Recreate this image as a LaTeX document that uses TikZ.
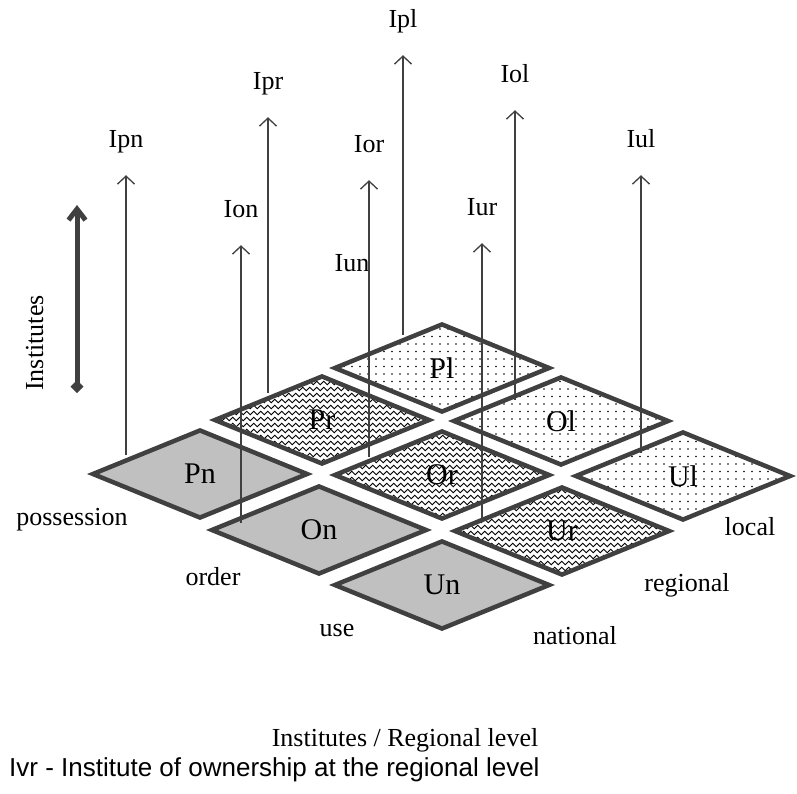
\documentclass[tikz,border=0pt]{standalone}
\usepackage{fontspec}
\setmainfont{Liberation Serif}
\newfontfamily\arialfont{Liberation Sans}
\usepackage{tikz}
\usetikzlibrary{shapes.geometric,patterns,arrows.meta}

\definecolor{edge}{HTML}{404040}
\definecolor{tilegray}{HTML}{C0C0C0}

\pgfdeclarepatternformonly{tilewaves}{\pgfpoint{-1pt}{-1pt}}{\pgfpoint{8pt}{7pt}}{\pgfpoint{7pt}{6pt}}{
  \pgfsetlinewidth{0.9pt}
  \pgfpathmoveto{\pgfpoint{0pt}{3pt}}
  \pgfpathcurveto{\pgfpoint{1.6pt}{5.3pt}}{\pgfpoint{1.9pt}{5.3pt}}{\pgfpoint{3.5pt}{3pt}}
  \pgfpathcurveto{\pgfpoint{5.1pt}{0.7pt}}{\pgfpoint{5.4pt}{0.7pt}}{\pgfpoint{7pt}{3pt}}
  \pgfusepath{stroke}
}
\pgfdeclarepatternformonly{tiledots}{\pgfpoint{-1pt}{-1pt}}{\pgfpoint{1pt}{1pt}}{\pgfpoint{8pt}{7.5pt}}{
  \pgfpathcircle{\pgfpointorigin}{0.85pt}
  \pgfusepath{fill}
}

\begin{document}
\begin{tikzpicture}
[x=1pt,y=-1pt]
\tikzset{tile/.style={diamond,draw=edge,line width=4.5pt,minimum width=216pt,minimum height=89pt,inner sep=0pt,font=\fontsize{30}{30}\selectfont},
  nat/.style={tile,fill=tilegray},
  reg/.style={tile,pattern=tilewaves,pattern color=black},
  loc/.style={tile,pattern=tiledots,pattern color=black},
  lbl/.style={inner sep=0pt,text height=18pt,text depth=6pt,font=\fontsize{26}{26}\selectfont},
  inst/.style={draw=edge,line width=1.3pt,shorten >=21pt,-{Straight Barb[length=8pt,width=17pt]}}}
\useasboundingbox (0,0) rectangle (797,794);

\node [nat] (pn) at (200,474) {Pn};
\node [nat] (on) at (319,530) {On};
\node [nat] (un) at (442,585) {Un};
\node [reg] (pr) at (322,420) {Pr};
\node [reg] (or) at (442,475) {Or};
\node [reg] (ur) at (562,531) {Ur};
\node [loc] (pl) at (442,368) {Pl};
\node [loc] (ol) at (561,421) {Ol};
\node [loc] (ul) at (683,476) {Ul};

\coordinate (b-pn) at (126,455);
\coordinate (b-on) at (241,523);
\coordinate (b-pr) at (268,393);
\coordinate (b-or) at (369,457);
\coordinate (b-pl) at (403,335);
\coordinate (b-ur) at (482,520);
\coordinate (b-ol) at (515,400);
\coordinate (b-ul) at (641,453);

\node [lbl] (ipn) at (126,142) {Ipn};
\node [lbl] (ion) at (241,212) {Ion};
\node [lbl] (ipr) at (268,84) {Ipr};
\node [lbl] (ior) at (369,147) {Ior};
\node [lbl] (ipl) at (403,22) {Ipl};
\node [lbl] (iur) at (482,210) {Iur};
\node [lbl] (iol) at (515,77) {Iol};
\node [lbl] (iul) at (641,142) {Iul};
\node [lbl] (iun) at (352,265) {Iun};

\foreach \from/\to in {b-pn/ipn,b-on/ion,b-pr/ipr,b-or/ior,b-pl/ipl,b-ur/iur,b-ol/iol,b-ul/iul}
  \draw [inst] (\from) -- (\to);

\coordinate (axis-low) at (77,393);
\coordinate (axis-high) at (77,205);
\draw [edge,line width=5pt,{Diamond[length=13pt,width=13pt]}-{Straight Barb[length=11pt,width=17pt]}] (axis-low) -- (axis-high);
\node [lbl,rotate=90] (institutes) at (37,343) {Institutes};

\node [lbl] (possession) at (72,519) {possession};
\node [lbl] (order) at (213,579) {order};
\node [lbl] (use) at (337,630) {use};
\node [lbl] (national) at (575,638) {national};
\node [lbl] (regional) at (687,585) {regional};
\node [lbl] (local) at (750,529) {local};

\node [lbl] (caption) at (405,740) {Institutes / Regional level};
\node [lbl,anchor=west,font=\arialfont\fontsize{26}{26}\selectfont] (legend) at (9,770) {Ivr - Institute of ownership at the regional level};

\end{tikzpicture}
\end{document}
